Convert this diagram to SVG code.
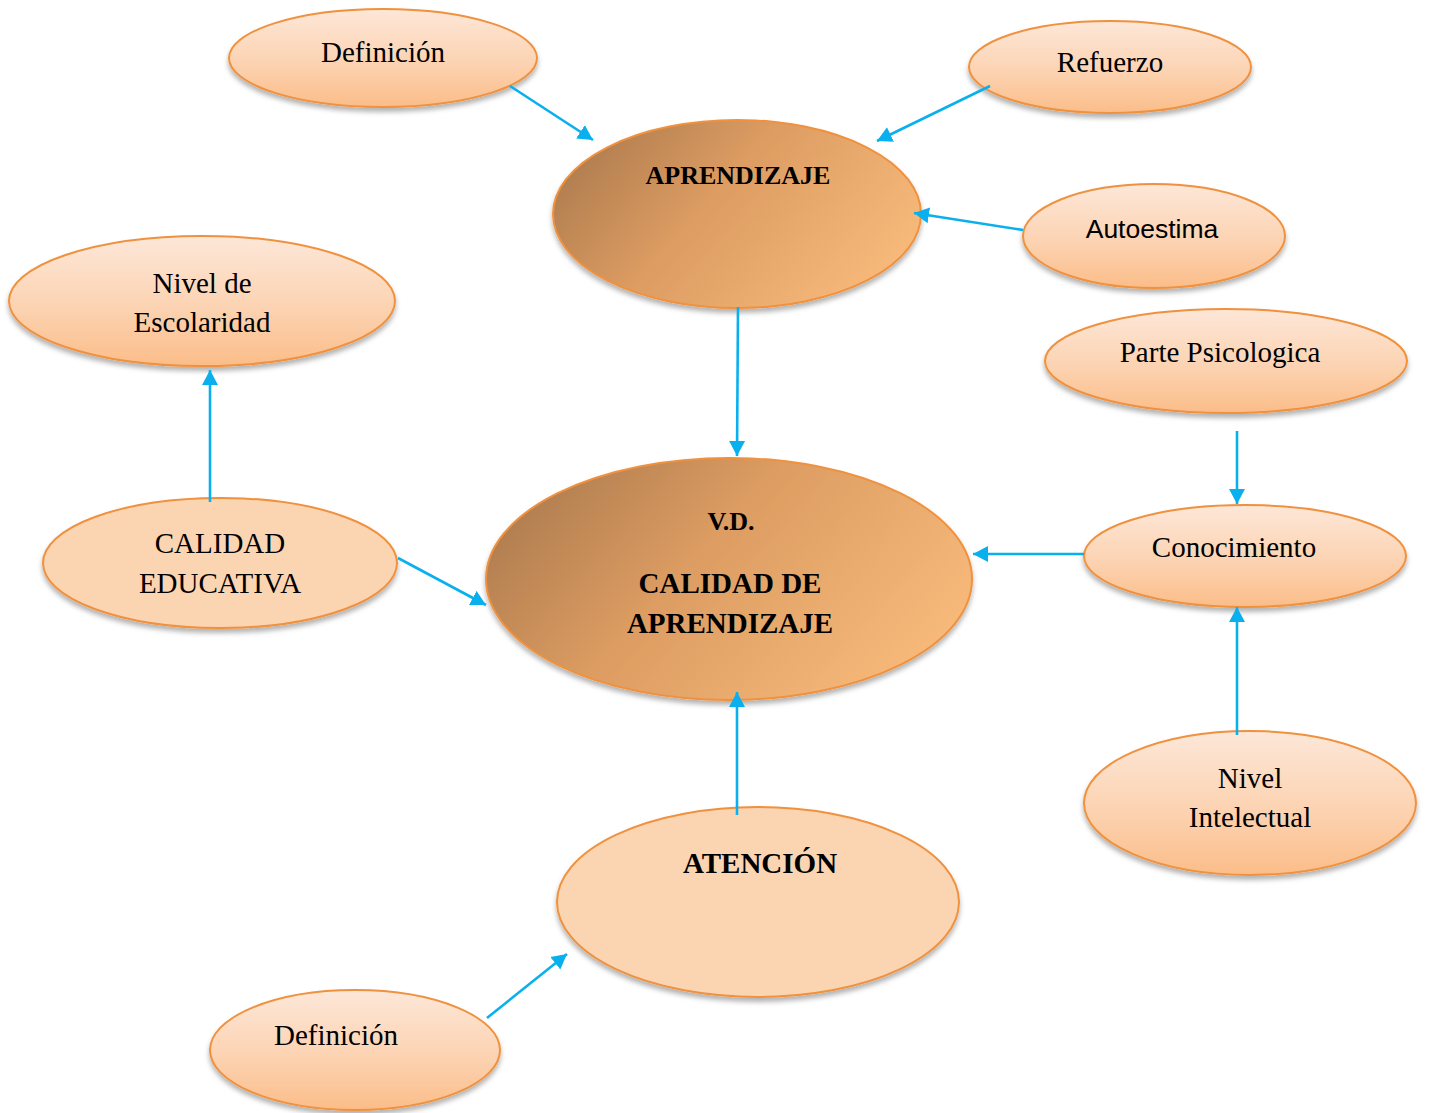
<svg xmlns="http://www.w3.org/2000/svg" width="1429" height="1113" viewBox="0 0 1429 1113">
<style>
.node{stroke:#f0913e;stroke-width:2;filter:url(#sh)}
.light{fill:url(#gl)}
.solid{fill:#fbd4b2}
.dark{fill:url(#gd)}
.t{font-family:"Liberation Serif","Times New Roman",serif;font-size:29px;fill:#000;text-anchor:middle}
.b{font-weight:bold}
.s{font-family:"Liberation Sans",Arial,sans-serif;font-size:26.5px;fill:#000;text-anchor:middle}
.c{stroke:#0ab0ee;stroke-width:2.6;fill:none;marker-end:url(#ah)}
</style>
<defs>
<linearGradient id="gl" x1="0" y1="0" x2="0" y2="1">
<stop offset="0" stop-color="#fde7d8"/>
<stop offset="0.55" stop-color="#fcd3b2"/>
<stop offset="1" stop-color="#fbbd89"/>
</linearGradient>
<linearGradient id="gd" x1="0" y1="0.15" x2="1" y2="0.6">
<stop offset="0" stop-color="#a9784c"/>
<stop offset="0.45" stop-color="#dc9c62"/>
<stop offset="1" stop-color="#f7b97a"/>
</linearGradient>
<filter id="sh" x="-10%" y="-10%" width="120%" height="130%">
<feDropShadow dx="0" dy="4" stdDeviation="2.5" flood-color="#000" flood-opacity="0.3"/>
</filter>
<marker id="ah" markerUnits="userSpaceOnUse" markerWidth="16" markerHeight="17" refX="15" refY="8" orient="auto" viewBox="0 0 16 16">
<path d="M0,0 L15,8 L0,16 Z" fill="#0ab0ee"/>
</marker>
</defs>
<g id="def1">
<ellipse class="node light" cx="383" cy="58" rx="154" ry="49"/>
<text class="t" x="383" y="62">Definición</text>
</g>
<g id="refuerzo">
<ellipse class="node light" cx="1110" cy="67" rx="141" ry="46"/>
<text class="t" x="1110" y="72">Refuerzo</text>
</g>
<g id="aprendizaje">
<ellipse class="node dark" cx="737" cy="214" rx="184" ry="94"/>
<text class="t b" x="738" y="184" style="font-size:26px">APRENDIZAJE</text>
</g>
<g id="autoestima">
<ellipse class="node light" cx="1154" cy="236" rx="131" ry="52"/>
<text class="s" x="1152" y="238">Autoestima</text>
</g>
<g id="escolaridad">
<ellipse class="node light" cx="202" cy="301" rx="193" ry="65"/>
<text class="t" x="202" y="293">Nivel de</text>
<text class="t" x="202" y="332">Escolaridad</text>
</g>
<g id="psicologica">
<ellipse class="node light" cx="1226" cy="361" rx="181" ry="52"/>
<text class="t" x="1220" y="362">Parte Psicologica</text>
</g>
<g id="calidad-educativa">
<ellipse class="node solid" cx="220" cy="563" rx="177" ry="65"/>
<text class="t" x="220" y="553">CALIDAD</text>
<text class="t" x="220" y="593">EDUCATIVA</text>
</g>
<g id="vd">
<ellipse class="node dark" cx="729" cy="579" rx="243" ry="121"/>
<text class="t b" x="731" y="530" style="font-size:26px">V.D.</text>
<text class="t b" x="730" y="593">CALIDAD DE</text>
<text class="t b" x="730" y="633">APRENDIZAJE</text>
</g>
<g id="conocimiento">
<ellipse class="node light" cx="1245" cy="556" rx="161" ry="51"/>
<text class="t" x="1234" y="557">Conocimiento</text>
</g>
<g id="intelectual">
<ellipse class="node light" cx="1250" cy="803" rx="166" ry="72"/>
<text class="t" x="1250" y="788">Nivel</text>
<text class="t" x="1250" y="827">Intelectual</text>
</g>
<g id="atencion">
<ellipse class="node solid" cx="758" cy="902" rx="201" ry="95"/>
<text class="t b" x="760" y="873">ATENCIÓN</text>
</g>
<g id="def2">
<ellipse class="node light" cx="355" cy="1050" rx="145" ry="60"/>
<text class="t" x="336" y="1045">Definición</text>
</g>
<g id="connectors">
<line class="c" x1="510" y1="86" x2="593" y2="140"/>
<line class="c" x1="990" y1="86" x2="877" y2="141"/>
<line class="c" x1="1023" y1="230" x2="914" y2="213"/>
<line class="c" x1="738" y1="307" x2="737" y2="456"/>
<line class="c" x1="210" y1="502" x2="210" y2="370"/>
<line class="c" x1="398" y1="558" x2="486" y2="605"/>
<line class="c" x1="1237" y1="431" x2="1237" y2="504"/>
<line class="c" x1="1084" y1="554" x2="973" y2="554"/>
<line class="c" x1="1237" y1="735" x2="1237" y2="607"/>
<line class="c" x1="737" y1="815" x2="737" y2="692"/>
<line class="c" x1="487" y1="1018" x2="567" y2="954"/>
</g>
</svg>
